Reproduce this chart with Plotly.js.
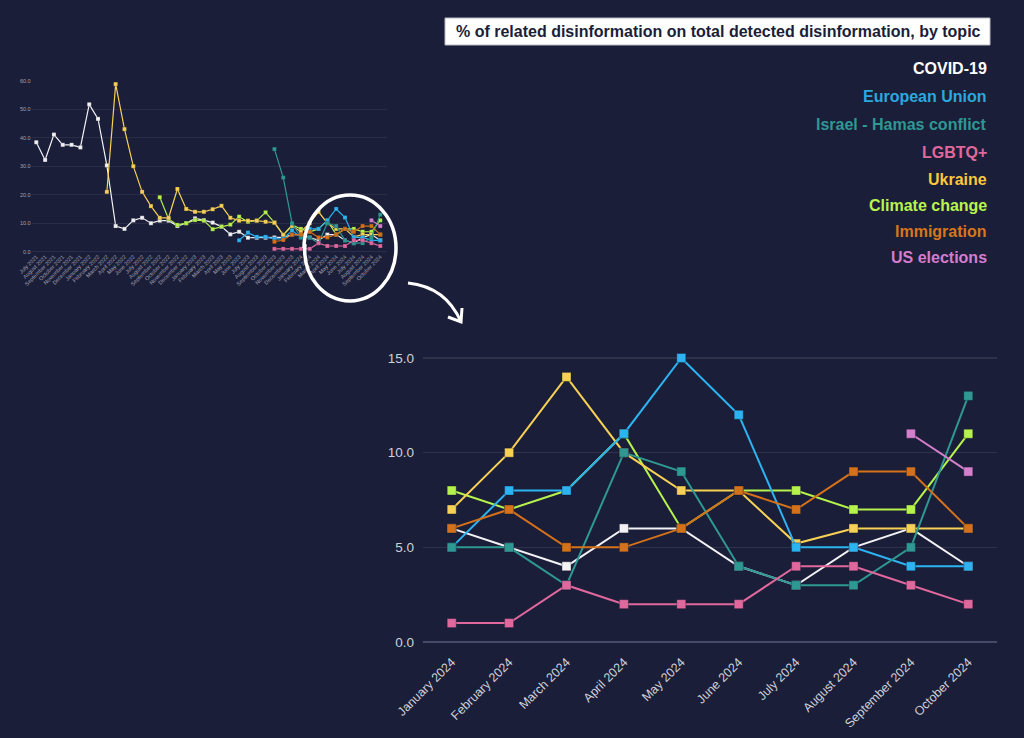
<!DOCTYPE html>
<html>
<head>
<meta charset="utf-8">
<script src="https://cdn.plot.ly/plotly-3.0.1.min.js"></script>
<style>
html,body{margin:0;padding:0;background:#1b1e38;}
#chart{width:1024px;height:738px;}
</style>
</head>
<body>
<div id="chart"></div>
<script>
// ---------- DATA ----------
const insetMonths = ["July 2021","August 2021","September 2021","October 2021","November 2021","December 2021",
"January 2022","February 2022","March 2022","April 2022","May 2022","June 2022","July 2022","August 2022",
"September 2022","October 2022","November 2022","December 2022","January 2023","February 2023","March 2023",
"April 2023","May 2023","June 2023","July 2023","August 2023","September 2023","October 2023","November 2023",
"December 2023","January 2024","February 2024","March 2024","April 2024","May 2024","June 2024","July 2024",
"August 2024","September 2024","October 2024"];

const mainMonths = ["January 2024","February 2024","March 2024","April 2024","May 2024","June 2024",
"July 2024","August 2024","September 2024","October 2024"];

const N = null;
const covid = [38.4,32.2,41.1,37.5,37.5,36.6,51.7,46.6,30.3,9.0,8.0,11.0,11.9,10.0,10.9,10.9,9.0,10.0,11.7,11.1,
10.2,8.8,6.1,7.0,4.9,4.9,4.9,5.0,5.0,6.0, 6,5,4,6,6,4,3,5,6,4];
const eu = [N,N,N,N,N,N,N,N,N,N,N,N,N,N,N,N,N,N,N,N,N,N,N,4.0,6.7,5.2,5.2,4.5,4.5,7.5, 5,8,8,11,15,12,5,5,4,4];
const israel = [N,N,N,N,N,N,N,N,N,N,N,N,N,N,N,N,N,N,N,N,N,N,N,N,N,N,N,36,26,10, 5,5,3,10,9,4,3,3,5,13];
const lgbtq = [N,N,N,N,N,N,N,N,N,N,N,N,N,N,N,N,N,N,N,N,N,N,N,N,N,N,N,1,1,1, 1,1,3,2,2,2,4,4,3,2];
const ukraine = [N,N,N,N,N,N,N,N,21,58.8,43,30,21,16,11.9,11.9,22,15,14,14,14.9,16.1,11.9,10.9,10.9,10.9,10.5,10.2,5.9,9.0,
7,10,14,10,8,8,5.2,6,6,6];
const climate = [N,N,N,N,N,N,N,N,N,N,N,N,N,N,19.1,11.5,9.4,10,11.1,10.9,7.9,8.8,9.5,12.3,10.5,10.9,13.8,10.2,5.9,9.4,
8,7,8,11,6,8,8,7,7,11];
const immigration = [N,N,N,N,N,N,N,N,N,N,N,N,N,N,N,N,N,N,N,N,N,N,N,N,N,N,N,3.5,4.1,6, 6,7,5,5,6,8,7,9,9,6];
const usElections = [N,N,N,N,N,N,N,N,N,N,N,N,N,N,N,N,N,N,N,N,N,N,N,N,N,N,N,N,N,N, N,N,N,N,N,N,N,N,11,9];

const topicNames = ["COVID-19","European Union","Israel - Hamas conflict","LGBTQ+","Ukraine","Climate change","Immigration","US elections"];
const yTicksMain = [0,5,10,15];
const yTicksInset = [0,10,20,30,40,50,60];
const titleText = "% of related disinformation on total detected disinformation, by topic";

// ---------- STYLE ----------
const W = 1024, H = 738;
const BG = "#1b1e38";
const FONT = "Liberation Sans, Arial, sans-serif";
const seriesByName = {
  "COVID-19": covid, "European Union": eu, "Israel - Hamas conflict": israel, "LGBTQ+": lgbtq,
  "Ukraine": ukraine, "Climate change": climate, "Immigration": immigration, "US elections": usElections
};
const lineColor = {
  "COVID-19":"#f2f2f5","European Union":"#2cb4f2","Israel - Hamas conflict":"#2e9893","LGBTQ+":"#e0689d",
  "Ukraine":"#f7d155","Climate change":"#b5f24c","Immigration":"#d4711a","US elections":"#d47fcc"
};
const legendColor = {
  "COVID-19":"#ffffff","European Union":"#2ba8de","Israel - Hamas conflict":"#2e9893","LGBTQ+":"#e0689d",
  "Ukraine":"#f9c93a","Climate change":"#b9f44e","Immigration":"#d7761c","US elections":"#d57ccd"
};
const drawOrder = ["COVID-19","Climate change","Ukraine","European Union","Israel - Hamas conflict","LGBTQ+","Immigration","US elections"];

const px = x => x / W;
const py = y => 1 - y / H;
const P = (x, y) => `${(x / W).toFixed(5)},${(1 - y / H).toFixed(5)}`;

const traces = [];
drawOrder.forEach(name => {
  const full = seriesByName[name];
  const c = lineColor[name];
  traces.push({
    type: "scatter", mode: "lines+markers", xaxis: "x2", yaxis: "y2",
    x: insetMonths, y: full, name: name, showlegend: false, cliponaxis: false,
    line: {color: c, width: 1.2},
    marker: {symbol: "square", size: 4, color: c, line: {width: 0.5, color: "rgba(20,22,45,0.4)"}},
    hoverinfo: "skip"
  });
});
drawOrder.forEach(name => {
  const full = seriesByName[name];
  const c = lineColor[name];
  traces.push({
    type: "scatter", mode: "lines+markers", xaxis: "x", yaxis: "y",
    x: mainMonths, y: full.slice(full.length - mainMonths.length), name: name, showlegend: false, cliponaxis: false,
    line: {color: c, width: 2},
    marker: {symbol: "square", size: 9, color: c, line: {width: 1, color: "rgba(20,22,45,0.35)"}}
  });
});

const annotations = [{
  text: "<b>" + titleText + "</b>", x: px(718), y: py(31.5), xref: "paper", yref: "paper",
  xanchor: "center", yanchor: "middle", showarrow: false,
  font: {family: FONT, size: 16, color: "#1b1e38"}
}];
const legendY = [68, 96, 124, 152, 179, 205, 231, 257];
topicNames.forEach((name, i) => {
  annotations.push({
    text: "<b>" + name + "</b>", x: px(989), y: py(legendY[i]), xref: "paper", yref: "paper",
    xanchor: "right", yanchor: "middle", showarrow: false,
    font: {family: FONT, size: 16, color: legendColor[name]}
  });
});

// hand-drawn style ellipse path
function ellipsePath(cx, cy, rx, ry) {
  const k = 0.5523;
  return `M ${P(cx - rx, cy)} ` +
    `C ${P(cx - rx, cy - k * ry)} ${P(cx - k * rx, cy - ry)} ${P(cx, cy - ry)} ` +
    `C ${P(cx + k * rx, cy - ry)} ${P(cx + rx, cy - k * ry)} ${P(cx + rx, cy)} ` +
    `C ${P(cx + rx, cy + k * ry)} ${P(cx + k * rx, cy + ry)} ${P(cx, cy + ry)} ` +
    `C ${P(cx - k * rx, cy + ry)} ${P(cx - rx - 2, cy + k * ry)} ${P(cx - rx + 1, cy - 4)}`;
}

const shapes = [
  {type: "rect", xref: "paper", yref: "paper", x0: px(445), x1: px(990), y0: py(45), y1: py(18),
   fillcolor: "#ffffff", line: {color: "#b8b8c4", width: 1}, layer: "below"},
  {type: "line", xref: "paper", yref: "y", x0: px(423), x1: px(997), y0: 0, y1: 0,
   line: {color: "#3e4163", width: 1.5}, layer: "below"},
  {type: "line", xref: "paper", yref: "y2", x0: px(31.7), x1: px(386.7), y0: 0, y1: 0,
   line: {color: "#35385a", width: 1}, layer: "below"},
  {type: "path", xref: "paper", yref: "paper", path: ellipsePath(350, 248, 46, 53),
   line: {color: "#ffffff", width: 3.5}},
  {type: "path", xref: "paper", yref: "paper",
   path: `M ${P(408, 283)} Q ${P(446, 287)} ${P(461, 322)}`, line: {color: "#ffffff", width: 3}},
  {type: "path", xref: "paper", yref: "paper",
   path: `M ${P(448, 317)} L ${P(461, 322)} L ${P(462, 308)}`, line: {color: "#ffffff", width: 3}}
];

const layout = {
  width: W, height: H, margin: {l: 0, r: 0, t: 0, b: 0},
  paper_bgcolor: BG, plot_bgcolor: BG, showlegend: false,
  font: {family: FONT, color: "#cfd0da"},
  xaxis: {domain: [px(423), px(997)], type: "category", range: [-0.5, 9.5], tickangle: -45,
    tickfont: {family: FONT, size: 12.5, color: "#cfd0da"}, showgrid: false, zeroline: false, showline: false,
    ticks: "", fixedrange: true},
  yaxis: {domain: [py(651.5), py(348.5)], range: [-0.5, 15.5], tickvals: yTicksMain, tickformat: ".1f",
    tickfont: {family: FONT, size: 13.5, color: "#cfd0da"}, ticklabelstandoff: 8,
    gridcolor: "rgba(255,255,255,0.09)", gridwidth: 1.5, zeroline: false, showline: false, ticks: "", fixedrange: true},
  xaxis2: {domain: [px(31.7), px(386.7)], anchor: "y2", type: "category", range: [-0.52, 39.73], tickangle: -45,
    tickfont: {family: FONT, size: 5.5, color: "#a0a2b4"},
    showgrid: false, zeroline: false, showline: false, ticks: "", fixedrange: true},
  yaxis2: {domain: [py(251.7), py(80.7)], anchor: "x2", range: [0, 60], tickvals: yTicksInset, tickformat: ".1f",
    tickfont: {family: FONT, size: 5.5, color: "#a0a2b4"},
    gridcolor: "rgba(255,255,255,0.07)", zeroline: false, showline: false, ticks: "", fixedrange: true},
  annotations: annotations,
  shapes: shapes
};

Plotly.newPlot("chart", traces, layout, {staticPlot: true, displayModeBar: false});
</script>
</body>
</html>
